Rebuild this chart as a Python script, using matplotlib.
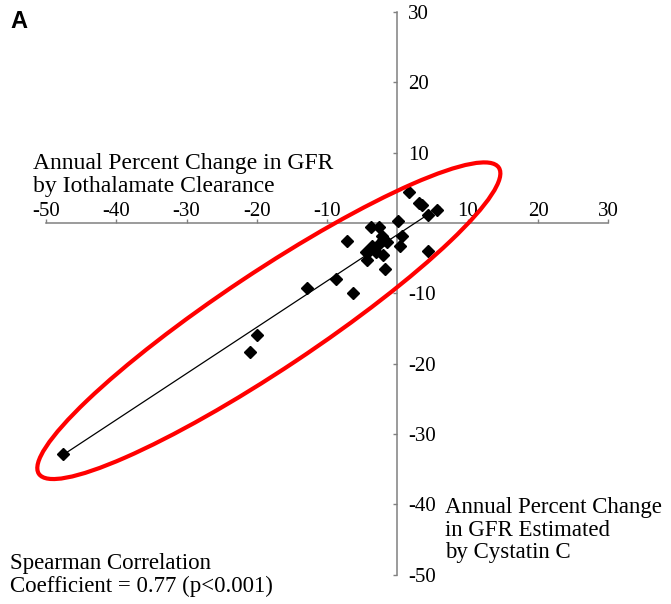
import matplotlib
matplotlib.use("Agg")
import matplotlib.pyplot as plt
from matplotlib.patches import Ellipse

plt.rcParams['font.family'] = ['Liberation Serif', 'DejaVu Serif']
plt.rcParams['axes.unicode_minus'] = False

# Data: annual percent change in GFR
iothalamate = [-47.6, -21.0, -20.0, -12.9, -8.8, -6.3, -7.2, 1.7, 3.0, 3.5, 5.6, 4.3,
               0.1, -3.8, -2.6, -2.2, -2.0, -1.5, 0.6, 0.4, -3.6, -3.9, -4.5, -3.0,
               -2.0, -4.3, 4.4, -1.8, -3.3, -2.6]
cystatin = [-32.9, -18.3, -15.9, -9.2, -8.0, -9.9, -2.5, 4.4, 2.9, 2.5, 1.9, 1.1,
            0.3, -0.6, -0.5, -1.8, -2.4, -2.7, -1.8, -3.3, -3.2, -3.9, -4.1, -4.1,
            -4.5, -5.2, -4.0, -6.6, -3.6, -3.0]
fit_x = [-47.6, 6.0]
fit_y = [-33.0, 2.3]
x_ticks = [-50, -40, -30, -20, -10, 10, 20, 30]
y_ticks = [30, 20, 10, -10, -20, -30, -40, -50]

fig = plt.figure(figsize=(6.71, 6.04), dpi=100)
ax = fig.add_axes([0.06855, 0.04884, 0.8381, 0.9311])
ax.set_xlim(-50, 30)
ax.set_ylim(-50, 30)

spine_col = '#808080'
for s in ['left', 'right', 'bottom', 'top']:
    ax.spines[s].set_position(('data', 0))
    ax.spines[s].set_color(spine_col)
    ax.spines[s].set_linewidth(1.1)
ax.spines['right'].set_visible(False)
ax.spines['top'].set_visible(False)

ax.set_xticks(x_ticks)
ax.set_yticks(y_ticks)
ax.set_xticklabels([str(v) for v in x_ticks])
ax.set_yticklabels([str(v) for v in y_ticks])
ax.tick_params(axis='x', bottom=False, top=True, labelbottom=False, labeltop=True,
               direction='out', length=3.0, width=1.0, color=spine_col, pad=-1.5,
               labelsize=15)
ax.tick_params(axis='y', left=True, right=False, labelleft=False, labelright=True,
               direction='out', length=3.0, width=1.0, color=spine_col, pad=4.5,
               labelsize=15)

# regression line
ax.plot(fit_x, fit_y, color='black', lw=0.9, zorder=3)
# data points
ax.plot(iothalamate, cystatin, linestyle='none', marker='D', ms=6.5,
        color='black', mec='black', zorder=4)

# red ellipse highlight
ell = Ellipse((-18.3, -13.9), width=78.6, height=13.8, angle=33.65,
              fill=False, edgecolor='#ff0000', lw=3.0, zorder=5, clip_on=False)
ax.add_patch(ell)

fig.text(33 / 671, 1 - 175 / 604, 'Annual Percent Change in GFR\nby Iothalamate Clearance',
         fontsize=17, ha='left', va='center', linespacing=1.16)
fig.text(445 / 671, 1 - 530 / 604, 'Annual Percent Change\nin GFR Estimated\nby Cystatin C',
         fontsize=16.5, ha='left', va='center', linespacing=1.12)
fig.text(10 / 671, 1 - 575 / 604, 'Spearman Correlation\nCoefficient = 0.77 (p<0.001)',
         fontsize=16.5, ha='left', va='center', linespacing=1.1)
fig.text(10 / 671, 1 - 21 / 604, 'A', fontsize=17, fontweight='bold',
         family=['Liberation Sans', 'DejaVu Sans'], ha='left', va='center')

fig.savefig('out.png', dpi=100)
